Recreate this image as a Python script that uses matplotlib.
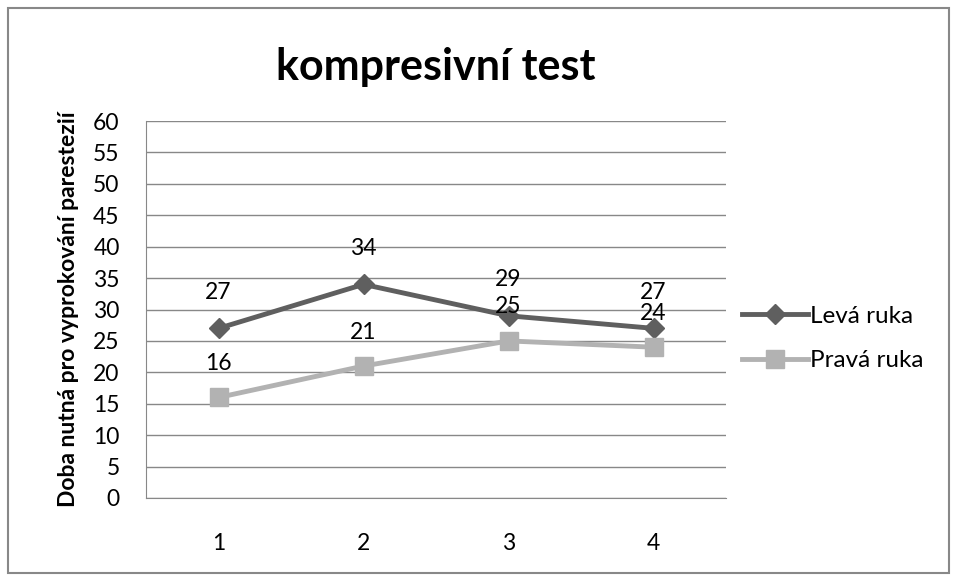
import matplotlib
matplotlib.use("Agg")
import matplotlib.pyplot as plt
from matplotlib.patches import Rectangle

categories = ["1", "2", "3", "4"]
leva = [27, 34, 29, 27]
prava = [16, 21, 25, 24]
series_names = ["Levá ruka", "Pravá ruka"]
title = "kompresivní test"
ylabel = "Doba nutná pro vyprokování parestezií"

plt.rcParams['font.family'] = ['Lato', 'DejaVu Sans']

fig = plt.figure(figsize=(9.57, 5.81), dpi=100)
ax = fig.add_axes([146/957, 1-498/581, (726-146)/957, (498-121)/581])

x = [i + 0.5 for i in range(len(categories))]
c1, c2 = "#5f5f5f", "#b2b2b2"
ax.plot(x, leva, color=c1, lw=3.5, marker="D", ms=10, label=series_names[0], zorder=3)
ax.plot(x, prava, color=c2, lw=3.5, marker="s", ms=13, label=series_names[1], zorder=3)

fs = 16.5
for xi, v in zip(x, leva):
    ax.annotate(str(v), (xi, v), xytext=(0, 26), textcoords="offset points",
                ha="center", va="center", fontsize=fs)
for xi, v in zip(x, prava):
    ax.annotate(str(v), (xi, v), xytext=(0, 24.5), textcoords="offset points",
                ha="center", va="center", fontsize=fs)

ax.set_xlim(0, 4)
ax.set_ylim(0, 60)
ax.set_yticks(range(0, 61, 5))
ax.set_xticks(x)
ax.set_xticklabels(categories)
ax.tick_params(axis="x", length=0, pad=25, labelsize=fs)
ax.tick_params(axis="y", length=0, labelsize=fs, pad=19)
ax.grid(axis="y", color="#888888", lw=1)
ax.set_axisbelow(True)
for s in ["top", "right"]:
    ax.spines[s].set_visible(False)
ax.spines["left"].set_color("#888888")
ax.spines["bottom"].set_color("#888888")

ax.set_ylabel(ylabel, fontsize=16.5, fontweight="bold", labelpad=10)
fig.text(436/957, 1-67/581, title, ha="center", va="center", fontsize=31, fontweight="bold")

leg = ax.legend(loc="center left", bbox_to_anchor=(0.99, 0.423), frameon=False,
                fontsize=17.5, handlelength=2.7, handletextpad=0.1, labelspacing=0.95)

fig.patches.append(Rectangle((8/957, 8/581), 941/957, 565/581, transform=fig.transFigure,
                             fill=False, edgecolor="#888888", lw=1.5))
fig.savefig("out.png", dpi=100)
